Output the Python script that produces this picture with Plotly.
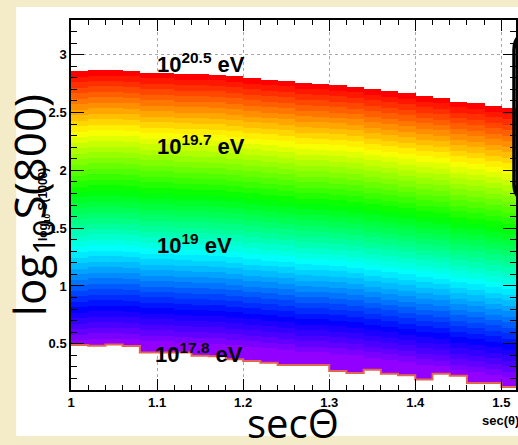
import colorsys
import numpy as np
import plotly.graph_objects as go

# ---------------- data ----------------
sec_edges = [1.00, 1.02, 1.04, 1.06, 1.08, 1.10, 1.12, 1.14, 1.16, 1.18,
             1.20, 1.22, 1.24, 1.26, 1.28, 1.30, 1.32, 1.34, 1.36, 1.38,
             1.40, 1.42, 1.44, 1.46, 1.48, 1.50, 1.52]
# upper edge of the filled region (log10 S) in every sec(theta) bin
top_logS = [2.856, 2.868, 2.868, 2.862, 2.842, 2.842, 2.830, 2.828, 2.825, 2.813,
            2.799, 2.782, 2.770, 2.753, 2.747, 2.735, 2.722, 2.704, 2.684, 2.664,
            2.644, 2.627, 2.597, 2.578, 2.554, 2.537]
# lower edge of the filled region (log10 S) in every sec(theta) bin
bottom_logS = [0.489, 0.483, 0.494, 0.480, 0.425, 0.425, 0.425, 0.397, 0.392, 0.365,
               0.351, 0.336, 0.316, 0.316, 0.316, 0.265, 0.247, 0.276, 0.241, 0.227,
               0.190, 0.241, 0.224, 0.161, 0.161, 0.127]
logE_max = 20.5          # colour at the upper edge
logE_min = 17.8          # colour at the lower edge
logS_per_decade = 0.878  # log10 S change per decade of energy
logS_edges = np.round(np.arange(0.1, 3.3 + 1e-9, 0.005), 4)

energy_labels = ["10<sup>20.5</sup> eV", "10<sup>19.7</sup> eV",
                 "10<sup>19</sup> eV", "10<sup>17.8</sup> eV"]

# ---------------- build cells ----------------
ycent = (logS_edges[:-1] + logS_edges[1:]) / 2
z = np.full((len(ycent), len(top_logS)), np.nan)
for i, (t, b) in enumerate(zip(top_logS, bottom_logS)):
    m = (ycent >= b) & (ycent <= t)
    z[m, i] = logE_max - (t - ycent[m]) / logS_per_decade

# ROOT "pretty" palette: 50 hues from violet to red
ncol = 50
pal = []
for k in range(ncol):
    h = 280 - (k + 1) * (280 / ncol)
    r, g, bb = colorsys.hls_to_rgb(h / 360.0, 0.5, 1.0)
    pal.append(f"rgb({int(r*255)},{int(g*255)},{int(bb*255)})")
cscale = []
for k, c in enumerate(pal):
    cscale.append([k / ncol, c])
    cscale.append([(k + 1) / ncol, c])

fig = go.Figure()
fig.add_trace(go.Heatmap(x=sec_edges, y=logS_edges, z=z, colorscale=cscale,
                         zmin=logE_min, zmax=logE_max, showscale=False,
                         hoverinfo="skip"))
fig.add_trace(go.Scatter(x=sec_edges, y=bottom_logS + [bottom_logS[-1]],
                         mode="lines", line=dict(shape="hv", color="#e2654f", width=2),
                         hoverinfo="skip"))

# ---------------- geometry helpers ----------------
L, R, T, B = 71, 518, 20, 390
W, H = 518, 445


def px(xp):
    return (xp - L) / (R - L)


def py(yp):
    return (B - yp) / (B - T)


shapes = [
    dict(type="rect", xref="paper", yref="paper", x0=px(16), x1=px(540),
         y0=py(436), y1=py(7), fillcolor="white", line=dict(width=0), layer="below"),
    dict(type="path", xref="paper", yref="paper",
         path=(f"M {px(540)},{py(34)} L {px(531)},{py(34)} Q {px(516)},{py(34)} {px(516)},{py(50)} "
               f"L {px(516)},{py(184)} Q {px(516)},{py(200)} {px(531)},{py(200)} L {px(540)},{py(200)}"),
         line=dict(color="black", width=3.5), fillcolor="rgba(0,0,0,0)", layer="above"),
]

ann = []
lab_pos = [(155, 63), (155, 144.7), (155, 244), (153.5, 352.5)]
for txt, (xx, yy) in zip(energy_labels, lab_pos):
    ann.append(dict(text=txt, xref="paper", yref="paper", x=px(xx), y=py(yy),
                    xanchor="left", yanchor="middle", showarrow=False,
                    font=dict(family="Liberation Sans", size=22, color="black", weight="bold")))
# small original titles
ann.append(dict(text="sec(θ)", xref="paper", yref="paper", x=px(482), y=py(420),
                xanchor="left", yanchor="middle", showarrow=False,
                font=dict(family="Liberation Sans", size=13, color="black", weight="bold")))
ann.append(dict(text="log<sub>10</sub> S(1000)", xref="paper", yref="paper", x=px(44), y=py(205),
                xanchor="center", yanchor="middle", showarrow=False, textangle=-90,
                font=dict(family="Liberation Sans", size=12, color="black", weight="bold")))
# big titles
ann.append(dict(text="secΘ", xref="paper", yref="paper", x=px(294), y=py(422),
                xanchor="center", yanchor="middle", showarrow=False,
                font=dict(family="Open Sans", size=40, color="black")))
ann.append(dict(text="log<sub>10</sub>S(800)", xref="paper", yref="paper", x=px(31), y=py(205),
                xanchor="center", yanchor="middle", showarrow=False, textangle=-90,
                font=dict(family="Open Sans", size=44, color="black")))

tickfont = dict(family="Liberation Sans", size=13, color="black", weight="bold")
fig.update_layout(
    width=W, height=H, margin=dict(l=L, r=W - R, t=T, b=H - B),
    paper_bgcolor="#f4ecc9", plot_bgcolor="white", showlegend=False,
    shapes=shapes, annotations=ann,
    xaxis=dict(range=[1.0, 1.517], tick0=1, dtick=0.1, ticks="inside", ticklen=11,
               tickwidth=1, tickcolor="black", showline=True, linecolor="black",
               linewidth=1.5, mirror="ticks", showgrid=True, gridcolor="#a8a8a8",
               griddash="dot", gridwidth=1, zeroline=False, tickfont=tickfont,
               minor=dict(dtick=0.02, tick0=1, ticks="inside", ticklen=5.5,
                          tickcolor="black", showgrid=False)),
    yaxis=dict(range=[0.1, 3.3], tick0=0.5, dtick=0.5, ticks="inside", ticklen=13,
               tickwidth=1, tickcolor="black", showline=True, linecolor="black",
               linewidth=1.5, mirror="ticks", showgrid=True, gridcolor="#a8a8a8",
               griddash="dot", gridwidth=1, zeroline=False, tickfont=tickfont,
               minor=dict(dtick=0.1, tick0=0.5, ticks="inside", ticklen=6.5,
                          tickcolor="black", showgrid=False)),
)

fig.write_html("out.html")
